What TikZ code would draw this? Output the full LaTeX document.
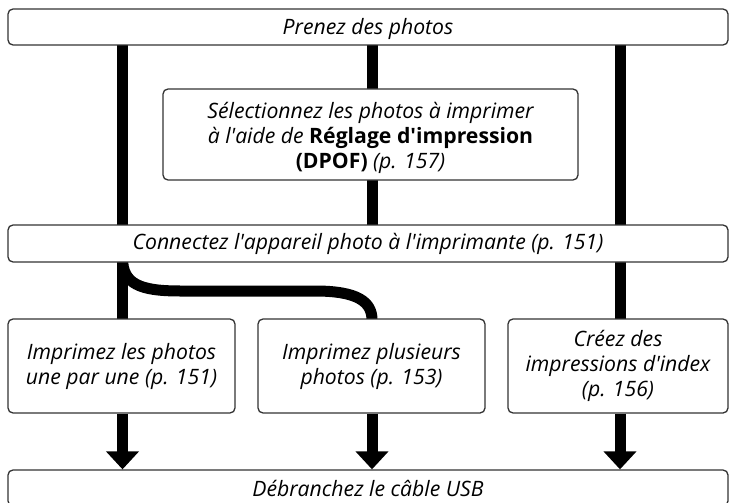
\documentclass[tikz,border=0pt]{standalone}
\usepackage{fontspec}
\setmainfont{Open Sans}[Ligatures=TeXOff]
\usetikzlibrary{arrows.meta}
\begin{document}
\begin{tikzpicture}[x=1pt,y=-1pt,
  box/.style={draw=black!80, line width=1.3pt, rounded corners=5pt, fill=white,
    font=\fontsize{21.2}{25}\selectfont\itshape, align=center, inner sep=0pt},
  bar/.style={line width=11pt, black},
  arr/.style={line width=11pt, black, -{Triangle[length=18pt,width=32pt]}}]
\useasboundingbox (0,0) rectangle (729,503);
\fill[white] (0,0) rectangle (729,503);
% coordinates for bar positions
\coordinate (xl) at (122.5,0);
\coordinate (xm) at (372,0);
\coordinate (xr) at (620,0);
% bars behind boxes
\draw[bar] (122.5,45) -- (122.5,226);
\draw[bar] (372,45) -- (372,226);
\draw[bar] (620,45) -- (620,226);
\draw[bar] (122.5,261) -- (122.5,320);
\draw[bar] (620,261) -- (620,320);
\draw[bar] (122.5,258) .. controls (122.5,284) and (140,291) .. (180,291) -- (315,291) .. controls (358,291) and (372,302) .. (372,320);
% boxes
\node[box, minimum width=720pt, minimum height=36pt] (top) at (368,27) {\raisebox{-1.5pt}[\height][\depth]{Prenez des photos}};
\node[box, minimum width=415pt, minimum height=91pt] (sel) at (370.5,134.5)
  {\raisebox{-4pt}[\height][\depth]{\begin{tabular}{@{}c@{}}Sélectionnez les photos à imprimer\\à l'aide de {\upshape\bfseries Réglage d'impression}\\{\upshape\bfseries (DPOF)} (p. 157)\end{tabular}}};
\node[box, minimum width=720pt, minimum height=37pt] (conn) at (368,243.5)
  {Connectez l'appareil photo à l'imprimante (p. 151)};
\node[box, minimum width=227pt, minimum height=94pt] (one) at (121.5,366)
  {Imprimez les photos\\une par une (p. 151)};
\node[box, minimum width=227pt, minimum height=94pt] (multi) at (371.5,366)
  {Imprimez plusieurs\\photos (p. 153)};
\node[box, minimum width=220pt, minimum height=94pt] (index) at (618,366)
  {Créez des\\impressions d'index\\(p. 156)};
\node[box, minimum width=720pt, minimum height=36pt] (usb) at (368,488)
  {Débranchez le câble USB};
% arrows
\draw[arr] (one.south -| xl) -- (usb.north -| xl);
\draw[arr] (multi.south -| xm) -- (usb.north -| xm);
\draw[arr] (index.south -| xr) -- (usb.north -| xr);
\end{tikzpicture}
\end{document}
